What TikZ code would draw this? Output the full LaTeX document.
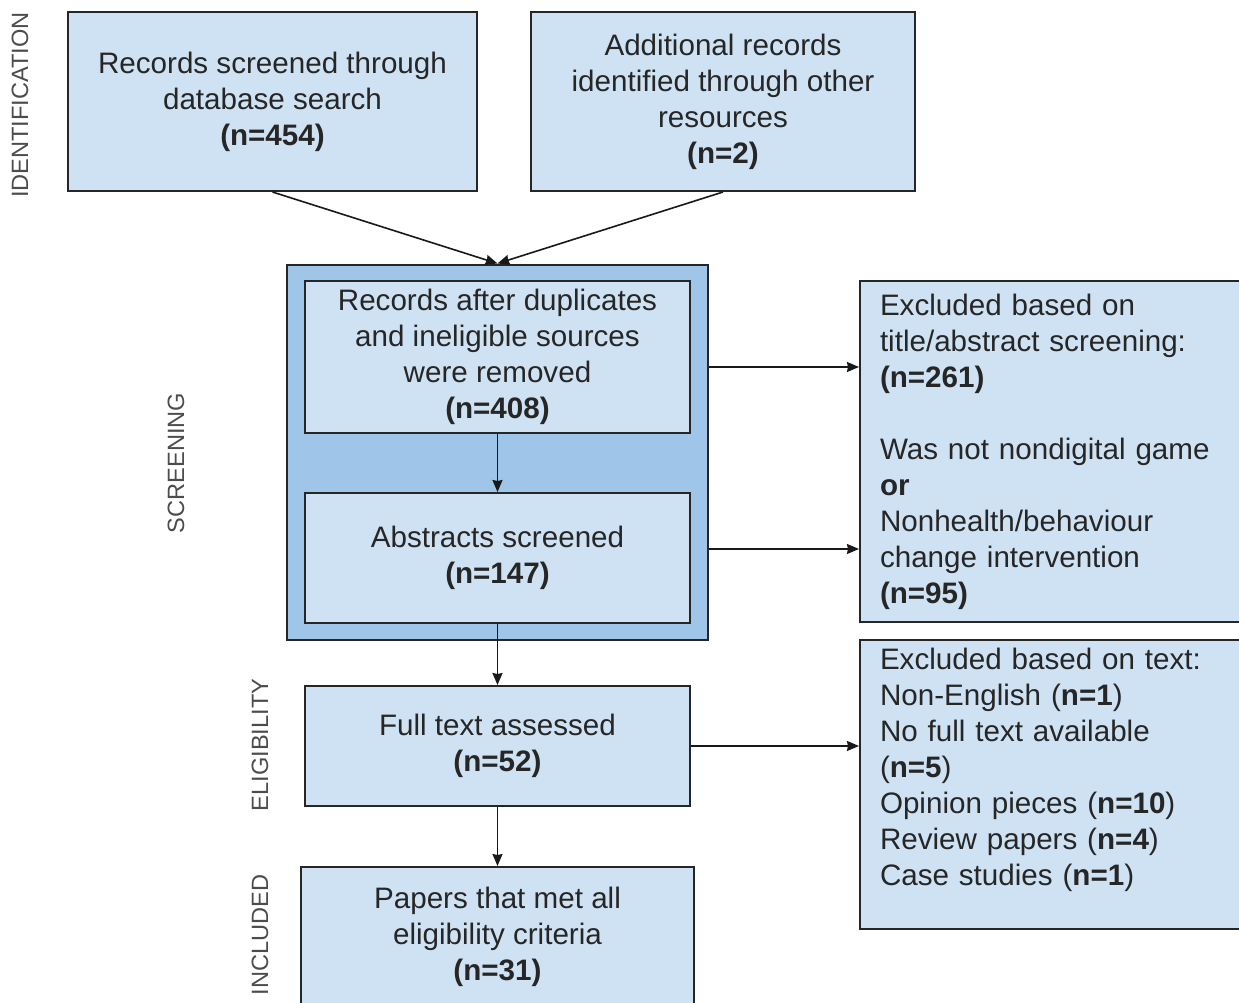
\documentclass[tikz,border=0pt]{standalone}
\usepackage{fontspec}
\setmainfont{Liberation Sans}
\usepackage{xcolor}
\usetikzlibrary{arrows.meta,positioning,fit,backgrounds}
\definecolor{boxblue}{HTML}{CFE2F3}
\definecolor{stageblue}{HTML}{9FC5E8}

\begin{document}
\begin{tikzpicture}[
  x=0.5pt, y=-0.5pt,
  font=\fontsize{14.8}{18}\selectfont,
  b/.style={draw=black!85, line width=1pt, fill=boxblue, align=center, inner sep=0pt, text=black!85},
  ex/.style={b, align=left, inner xsep=10pt, text width=180pt, minimum width=200pt},
  lbl/.style={font=\fontsize{11.8}{14}\selectfont, text=black!70, rotate=90},
  arr/.style={-{Stealth[length=6pt, width=5pt, inset=0.5pt]}, line width=0.8pt, black!90}
]
\useasboundingbox (0,0) rectangle (1239,1003);
\clip (0,0) rectangle (1239,1003);
\node[b, minimum width=204.5pt, minimum height=89.5pt] (src1) at (272.5,101.5) {Records screened through\\ database search\\ \textbf{(n=454)}};
\node[b, minimum width=192pt, minimum height=89.5pt] (src2) at (723,101.5) {Additional records\\ identified through other\\ resources\\ \textbf{(n=2)}};
\node[b, minimum width=192.5pt, minimum height=76pt] (dedup) at (497.5,357) {Records after duplicates\\ and ineligible sources\\ were removed\\ \textbf{(n=408)}};
\node[b, minimum width=192.5pt, minimum height=65pt] (abst) at (497.5,558) {Abstracts screened\\ \textbf{(n=147)}};
\node[b, minimum width=192.5pt, minimum height=60pt] (full) at (497.5,746) {Full text assessed\\ \textbf{(n=52)}};
\node[b, minimum width=196.5pt, minimum height=70pt] (incl) at (497.5,937) {Papers that met all\\ eligibility criteria\\ \textbf{(n=31)}};
\begin{scope}[on background layer]
\node[draw=black!85, line width=1pt, fill=stageblue, inner xsep=8.5pt, inner ysep=7.75pt, fit=(dedup)(abst)] (scr) {};
\end{scope}
\node[ex, minimum height=170.5pt] (exc1) at (1060,451.5) {Excluded based on\\ title/abstract screening:\\ \textbf{(n=261)}\\[18pt] Was not nondigital game\\ \textbf{or}\\ Nonhealth/behaviour\\ change intervention\\ \textbf{(n=95)}};
\node[ex, minimum height=144.5pt] (exc2) at (1060,784.5) {Excluded based on text:\\ Non-English (\textbf{n=1})\\ No full text available\\ (\textbf{n=5})\\ Opinion pieces (\textbf{n=10})\\ Review papers (\textbf{n=4})\\ Case studies (\textbf{n=1})\\ \mbox{}};
\draw[arr] (src1.south) -- (scr.north);
\draw[arr] (src2.south) -- (scr.north);
\draw[arr] (dedup.south) -- (abst.north);
\draw[arr] (abst.south) -- (full.north);
\draw[arr] (full.south) -- (incl.north);
\draw[arr] ([yshift=-5pt]dedup.east -| scr.east) -- ([yshift=-5pt]dedup.east -| exc1.west);
\draw[arr] ([yshift=4.5pt]abst.east -| scr.east) -- ([yshift=4.5pt]abst.east -| exc1.west);
\draw[arr] (full.east) -- (full.east -| exc2.west);
\node[lbl] (idlbl) at (20,105) {IDENTIFICATION};
\node[lbl] (scrlbl) at (176,463) {SCREENING};
\node[lbl] (elglbl) at (260,745) {ELIGIBILITY};
\node[lbl] (inclbl) at (260,935) {INCLUDED};
\end{tikzpicture}
\end{document}
